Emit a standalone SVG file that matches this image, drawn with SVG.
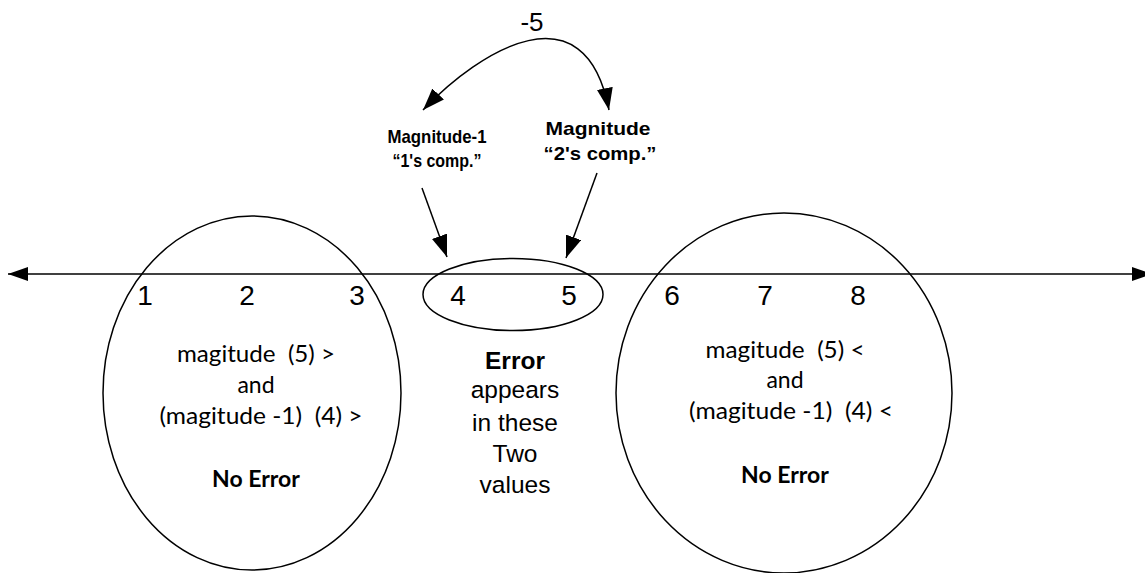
<svg xmlns="http://www.w3.org/2000/svg" width="1145" height="573" viewBox="0 0 1145 573">
<style>
.ln{fill:none;stroke:#000;stroke-width:1.5}
.num{font-family:"Liberation Sans",Arial,sans-serif;font-size:28px;text-anchor:middle;fill:#000}
.lbl{font-family:"Liberation Sans",Arial,sans-serif;font-weight:bold;text-anchor:middle;fill:#000}
.cal{font-family:Lato,"Liberation Sans",sans-serif;font-size:23px;text-anchor:middle;fill:#000;white-space:pre}
.calb{font-family:Lato,"Liberation Sans",sans-serif;font-size:23px;font-weight:bold;text-anchor:middle;fill:#000}
.mid{font-family:"Liberation Sans",Arial,sans-serif;font-size:24.5px;text-anchor:middle;fill:#000}
</style>
<defs>
<marker id="ah" viewBox="0 0 20 14" refX="20" refY="7" markerWidth="20" markerHeight="14" markerUnits="userSpaceOnUse" orient="auto-start-reverse">
<path d="M0,0 L20,7 L0,14 Z" fill="#000"/>
</marker>
<marker id="ahb" viewBox="0 0 22 16" refX="22" refY="8" markerWidth="22" markerHeight="16" markerUnits="userSpaceOnUse" orient="auto-start-reverse">
<path d="M0,0 L22,8 L0,16 Z" fill="#000"/>
</marker>
</defs>
<rect width="1145" height="573" fill="#fff"/>
<g id="connectors">
<line class="ln" x1="8" y1="274" x2="1152" y2="274" marker-start="url(#ah)" marker-end="url(#ah)"/>
<path class="ln" d="M423,110 C480,50 585,-15 609,110" marker-start="url(#ahb)" marker-end="url(#ahb)"/>
<line class="ln" x1="422" y1="188" x2="447" y2="257" marker-end="url(#ahb)"/>
<line class="ln" x1="597" y1="173" x2="566" y2="258" marker-end="url(#ahb)"/>
</g>
<g id="left-group">
<ellipse class="ln" cx="252" cy="393" rx="149" ry="177"/>
<text class="num" x="145" y="305">1</text>
<text class="num" x="247" y="305">2</text>
<text class="num" x="357" y="305">3</text>
<text class="cal" x="256" y="362" textLength="158" lengthAdjust="spacingAndGlyphs">magitude  (5) &gt;</text>
<text class="cal" x="256" y="393">and</text>
<text class="cal" x="261" y="424" textLength="203" lengthAdjust="spacingAndGlyphs">(magitude -1)  (4) &gt;</text>
<text class="calb" x="256" y="487">No Error</text>
</g>
<g id="error-group">
<ellipse class="ln" cx="513" cy="294.5" rx="90" ry="36"/>
<text class="num" x="458" y="305">4</text>
<text class="num" x="569" y="305">5</text>
<text class="mid" x="515" y="369" font-weight="bold">Error</text>
<text class="mid" x="515" y="398">appears</text>
<text class="mid" x="515" y="431">in these</text>
<text class="mid" x="515" y="462">Two</text>
<text class="mid" x="515" y="493">values</text>
</g>
<g id="right-group">
<ellipse class="ln" cx="784" cy="393" rx="168" ry="180"/>
<text class="num" x="672" y="305">6</text>
<text class="num" x="765" y="305">7</text>
<text class="num" x="858" y="305">8</text>
<text class="cal" x="785" y="358" textLength="159" lengthAdjust="spacingAndGlyphs">magitude  (5) &lt;</text>
<text class="cal" x="785" y="388">and</text>
<text class="cal" x="791" y="419" textLength="204" lengthAdjust="spacingAndGlyphs">(magitude -1)  (4) &lt;</text>
<text class="calb" x="785" y="483">No Error</text>
</g>
<g id="top-label">
<text class="num" x="532" y="31" style="font-size:26px">-5</text>
</g>
<g id="label-1s">
<text class="lbl" x="437" y="143" font-size="19" textLength="99" lengthAdjust="spacingAndGlyphs">Magnitude-1</text>
<text class="lbl" x="437" y="167" font-size="19" textLength="89" lengthAdjust="spacingAndGlyphs">“1's comp.”</text>
</g>
<g id="label-2s">
<text class="lbl" x="598" y="135" font-size="19" textLength="105" lengthAdjust="spacingAndGlyphs">Magnitude</text>
<text class="lbl" x="600" y="160" font-size="19" textLength="113" lengthAdjust="spacingAndGlyphs">“2's comp.”</text>
</g>
</svg>
